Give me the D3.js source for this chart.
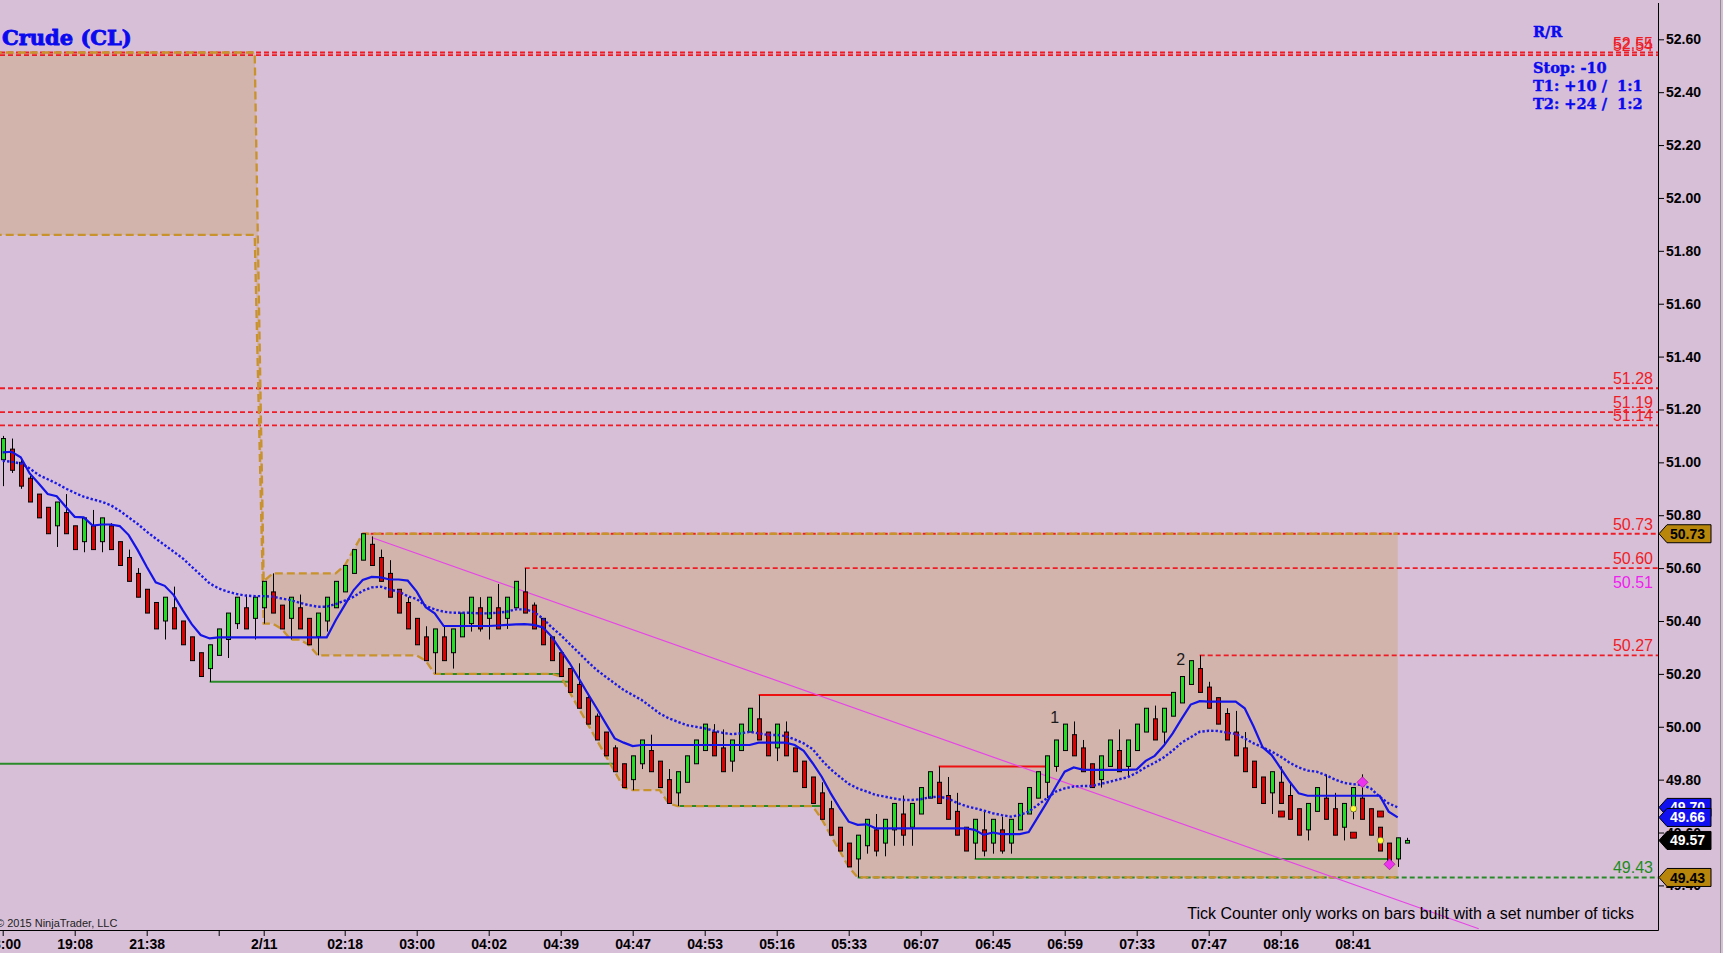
<!DOCTYPE html>
<html><head><meta charset="utf-8">
<script src="https://cdn.jsdelivr.net/npm/d3@7"></script>
<style>
html,body{margin:0;padding:0;background:#D8BFD8;}
svg{display:block;}
</style></head><body>
<svg id="chart" width="1723" height="953"></svg>
<script>
// ---------------- DATA ----------------
const opens = [
51.01,51.05,51.00,50.94,50.88,50.83,50.76,50.81,50.76,50.70,
50.76,50.70,50.76,50.70,50.64,50.58,50.52,50.47,50.40,50.45,
50.40,50.34,50.28,50.22,50.27,50.33,50.39,50.45,50.41,50.45,
50.51,50.46,50.41,50.45,50.41,50.34,50.40,50.45,50.51,50.58,
50.63,50.69,50.64,50.58,50.52,50.47,50.41,50.34,50.28,50.34,
50.28,50.34,50.39,50.45,50.41,50.45,50.41,50.45,50.51,50.46,
50.41,50.34,50.28,50.22,50.16,50.11,50.04,49.98,49.92,49.86,
49.80,49.86,49.91,49.87,49.80,49.75,49.79,49.86,49.91,49.98,
49.92,49.87,49.91,49.98,50.03,49.98,49.92,49.98,49.92,49.87,
49.81,49.75,49.69,49.62,49.56,49.50,49.55,49.61,49.56,49.61,
49.67,49.62,49.67,49.73,49.79,49.74,49.68,49.62,49.56,49.61,
49.56,49.61,49.56,49.61,49.67,49.73,49.79,49.85,49.91,49.97,
49.92,49.86,49.80,49.85,49.91,49.85,49.91,49.98,50.03,49.98,
50.04,50.09,50.16,50.22,50.15,50.11,50.05,49.98,49.92,49.87,
49.81,49.75,49.79,49.74,49.69,49.61,49.68,49.73,49.69,49.62,
49.68,49.73,49.69,49.62,49.56,49.50,49.56];
const highs = [
51.10,51.09,51.01,50.95,50.88,50.83,50.85,50.88,50.76,50.79,
50.82,50.79,50.77,50.70,50.67,50.60,50.52,50.47,50.49,50.53,
50.40,50.34,50.28,50.31,50.37,50.43,50.49,50.50,50.49,50.55,
50.58,50.46,50.49,50.50,50.41,50.43,50.49,50.55,50.61,50.67,
50.73,50.72,50.67,50.63,50.52,50.49,50.41,50.38,50.37,50.38,
50.37,50.43,50.49,50.49,50.49,50.54,50.49,50.55,50.60,50.47,
50.41,50.34,50.28,50.22,50.24,50.12,50.05,49.98,49.93,49.86,
49.89,49.95,49.97,49.87,49.84,49.83,49.89,49.95,50.01,50.01,
49.99,49.95,50.01,50.07,50.12,49.98,50.01,50.02,49.92,49.87,
49.81,49.79,49.72,49.62,49.56,49.59,49.65,49.67,49.65,49.71,
49.74,49.71,49.77,49.83,49.85,49.81,49.75,49.62,49.65,49.68,
49.65,49.66,49.65,49.71,49.77,49.83,49.89,49.95,50.01,50.02,
49.95,49.86,49.89,49.95,49.99,49.95,50.01,50.07,50.08,50.07,
50.13,50.19,50.25,50.27,50.17,50.11,50.07,50.06,49.98,49.87,
49.81,49.83,49.85,49.79,49.69,49.71,49.77,49.82,49.75,49.71,
49.77,49.82,49.69,49.62,49.56,49.58,49.58];
const lows = [
50.91,50.96,50.90,50.85,50.79,50.73,50.68,50.73,50.67,50.66,
50.67,50.66,50.67,50.61,50.55,50.49,50.43,50.37,50.33,50.37,
50.31,50.25,50.19,50.17,50.27,50.26,50.37,50.37,50.33,50.39,
50.43,50.37,50.33,50.37,50.31,50.27,50.36,50.45,50.51,50.58,
50.63,50.61,50.55,50.49,50.43,50.37,50.31,50.25,50.20,50.25,
50.22,50.34,50.36,50.36,50.33,50.37,50.37,50.45,50.43,50.37,
50.31,50.25,50.19,50.13,50.07,50.01,49.95,49.89,49.83,49.77,
49.76,49.84,49.83,49.77,49.71,49.70,49.79,49.86,49.91,49.89,
49.83,49.83,49.91,49.98,49.95,49.89,49.87,49.89,49.83,49.77,
49.71,49.65,49.59,49.53,49.47,49.43,49.52,49.51,49.51,49.55,
49.55,49.55,49.67,49.73,49.71,49.65,49.59,49.53,49.50,49.51,
49.52,49.52,49.52,49.61,49.67,49.73,49.73,49.83,49.91,49.89,
49.83,49.77,49.77,49.85,49.83,49.81,49.91,49.98,49.95,49.93,
50.04,50.09,50.16,50.13,50.07,50.01,49.95,49.89,49.83,49.77,
49.71,49.67,49.71,49.65,49.59,49.57,49.68,49.65,49.59,49.57,
49.65,49.65,49.59,49.53,49.47,49.47,49.56];
const closes = [
51.09,50.97,50.91,50.85,50.79,50.73,50.85,50.73,50.67,50.79,
50.67,50.79,50.67,50.61,50.55,50.49,50.43,50.37,50.49,50.37,
50.31,50.25,50.19,50.31,50.37,50.43,50.49,50.37,50.49,50.55,
50.43,50.37,50.49,50.37,50.31,50.43,50.49,50.55,50.61,50.67,
50.73,50.61,50.55,50.49,50.43,50.37,50.31,50.25,50.37,50.25,
50.37,50.43,50.49,50.37,50.49,50.37,50.49,50.55,50.43,50.37,
50.31,50.25,50.19,50.13,50.07,50.01,49.95,49.89,49.83,49.77,
49.89,49.95,49.83,49.77,49.71,49.83,49.89,49.95,50.01,49.89,
49.83,49.95,50.01,50.07,49.95,49.89,50.01,49.89,49.83,49.77,
49.71,49.65,49.59,49.53,49.47,49.59,49.65,49.53,49.65,49.71,
49.59,49.71,49.77,49.83,49.71,49.65,49.59,49.53,49.65,49.53,
49.65,49.53,49.65,49.71,49.77,49.83,49.89,49.95,50.01,49.89,
49.83,49.77,49.89,49.95,49.83,49.95,50.01,50.07,49.95,50.07,
50.13,50.19,50.25,50.13,50.07,50.01,49.95,49.89,49.83,49.77,
49.71,49.83,49.71,49.65,49.59,49.71,49.77,49.65,49.59,49.71,
49.77,49.65,49.59,49.53,49.49,49.58,49.57];

// blue solid (stepped average) and blue dotted average, one value per finished bar
const maSolid = [
51.038,51.040,51.019,50.958,50.920,50.880,50.872,50.832,50.794,50.792,
50.761,50.765,50.765,50.759,50.725,50.668,50.605,50.546,50.533,50.498,
50.441,50.388,50.347,50.334,50.338,50.338,50.338,50.338,50.338,50.338,
50.338,50.338,50.338,50.338,50.338,50.338,50.338,50.403,50.460,50.517,
50.555,50.567,50.565,50.557,50.557,50.553,50.511,50.452,50.429,50.381,
50.381,50.381,50.381,50.381,50.381,50.383,50.385,50.387,50.388,50.385,
50.376,50.341,50.290,50.240,50.183,50.126,50.070,50.013,49.956,49.940,
49.927,49.931,49.931,49.931,49.931,49.931,49.931,49.931,49.931,49.931,
49.931,49.931,49.931,49.931,49.940,49.940,49.940,49.940,49.931,49.909,
49.862,49.811,49.748,49.692,49.641,49.629,49.631,49.616,49.616,49.616,
49.616,49.616,49.616,49.616,49.616,49.616,49.616,49.616,49.610,49.591,
49.600,49.594,49.594,49.594,49.602,49.657,49.713,49.773,49.830,49.846,
49.838,49.837,49.837,49.837,49.837,49.837,49.839,49.871,49.890,49.928,
49.975,50.031,50.084,50.097,50.095,50.095,50.095,50.095,50.070,50.000,
49.922,49.893,49.843,49.792,49.748,49.739,49.739,49.739,49.739,49.739,
49.739,49.739,49.739,49.739,49.679,49.657];
const maDotted = [
51.006,51.002,50.996,50.977,50.952,50.936,50.920,50.901,50.885,50.870,
50.860,50.851,50.838,50.817,50.792,50.767,50.738,50.712,50.687,50.662,
50.637,50.605,50.574,50.542,50.523,50.511,50.502,50.496,50.494,50.494,
50.492,50.485,50.479,50.469,50.460,50.454,50.454,50.464,50.477,50.492,
50.514,50.527,50.530,50.519,50.511,50.494,50.483,50.457,50.444,50.435,
50.431,50.431,50.431,50.429,50.429,50.431,50.435,50.444,50.444,50.435,
50.410,50.376,50.347,50.313,50.280,50.246,50.215,50.189,50.164,50.139,
50.120,50.101,50.076,50.050,50.032,50.019,50.006,50.000,49.994,49.985,
49.977,49.972,49.975,49.981,49.975,49.969,49.969,49.965,49.952,49.937,
49.915,49.874,49.839,49.811,49.784,49.767,49.755,49.742,49.736,49.729,
49.723,49.723,49.726,49.733,49.736,49.729,49.713,49.700,49.692,49.683,
49.673,49.666,49.660,49.666,49.679,49.704,49.729,49.755,49.767,49.774,
49.776,49.776,49.784,49.792,49.801,49.809,49.826,49.847,49.864,49.884,
49.910,49.940,49.960,49.981,49.985,49.984,49.978,49.973,49.956,49.937,
49.922,49.906,49.887,49.864,49.846,49.834,49.830,49.817,49.801,49.788,
49.783,49.780,49.767,49.735,49.710,49.695];

// session range (2/11 session starts at bar 29); prior range box
const sessionStartBar = 29;
const priorRangeHigh = 52.55, priorRangeLow = 51.86;

// time axis
const timeTickBars   = [0,8,16,24,29,38,46,54,62,70,78,86,94,102,110,118,126,134,142,150];
const timeTickLabels = ['18:00','19:08','21:38','','2/11','02:18','03:00','04:02','04:39','04:47','04:53','05:16','05:33','06:07','06:45','06:59','07:33','07:47','08:16','08:41'];
const priceTicks = [49.40,49.60,49.80,50.00,50.20,50.40,50.60,50.80,51.00,51.20,51.40,51.60,51.80,52.00,52.20,52.40,52.60];

// horizontal levels
const redDashedPrices = [52.55,52.54,51.28,51.19,51.14,50.73,50.60,50.27];
const redDashedFrom   = [null,null,null,null,null,40,58,133];
const greenDashedPrices = [49.43];
const greenDashedFrom   = [95];
const resistPrices = [50.12,49.85];
const resistFrom   = [84,104];
const resistTo     = [130,116];
const supportPrices = [49.86,50.17,50.20,49.70,49.50];
const supportFrom   = [null,23,48,75,108];
const supportTo     = [68,63,62,91,154];
const magentaLabelPrice = 50.51;

// trend line (bar, price)
const trendBars = [41,164];
const trendPrices = [50.716,49.236];

// swing labels
const swingBars = [117,131];
const swingPrices = [50.014,50.234];
const swingTexts = ['1','2'];

// markers
const squareBars = [142,150,153], squarePrices = [49.67,49.59,49.67];
const dotBars = [150,153], dotPrices = [49.69,49.57];
const diamondBars = [151,154], diamondPrices = [49.79,49.48];

// R/R block
const rrLines = ['R/R','Stop: -10','T1: +10 /  1:1','T2: +24 /  1:2'];

// ---------------- DRAW ----------------
const W = 1723, H = 953;
const plotRight = 1658, plotBottom = 930;
const x = d3.scaleLinear().domain([0,156]).range([2.7,1406.7]);
const y = d3.scaleLinear().domain([49.40,52.60]).range([885.4,39.3]);
const fmt = d3.format('.2f');

const svg = d3.select('#chart');
svg.append('rect').attr('width',W).attr('height',H).attr('fill','#D8BFD8');
svg.append('defs').append('clipPath').attr('id','pc')
  .append('rect').attr('x',0).attr('y',0).attr('width',plotRight).attr('height',plotBottom);
const plot = svg.append('g').attr('clip-path','url(#pc)');

// session band (prior range, then running high/low)
const band = [];
let hi = -Infinity, lo = Infinity;
for (let i = -1; i < maSolid.length; i++) {
  if (i < sessionStartBar) band.push({i, u: priorRangeHigh, l: priorRangeLow});
  else { hi = Math.max(hi, highs[i]); lo = Math.min(lo, lows[i]); band.push({i, u: hi, l: lo}); }
}
plot.append('path').datum(band)
  .attr('d', d3.area().x(d=>x(d.i)).y0(d=>y(d.l)).y1(d=>y(d.u)))
  .attr('fill','#d2b4ac');

// level lines
const lev = plot.append('g');
redDashedPrices.forEach((p,k)=>{
  lev.append('line').attr('x1', redDashedFrom[k]===null?0:x(redDashedFrom[k])).attr('x2',plotRight)
    .attr('y1',y(p)).attr('y2',y(p)).attr('stroke','#ee1c24').attr('stroke-width',1.9).attr('stroke-dasharray','5,3');
});
greenDashedPrices.forEach((p,k)=>{
  lev.append('line').attr('x1', x(greenDashedFrom[k])).attr('x2',plotRight)
    .attr('y1',y(p)).attr('y2',y(p)).attr('stroke','#2a8a2a').attr('stroke-width',1.9).attr('stroke-dasharray','5,3');
});
resistPrices.forEach((p,k)=>{
  lev.append('line').attr('x1', x(resistFrom[k])).attr('x2',x(resistTo[k]))
    .attr('y1',y(p)).attr('y2',y(p)).attr('stroke','#ee1111').attr('stroke-width',2);
});
supportPrices.forEach((p,k)=>{
  lev.append('line').attr('x1', supportFrom[k]===null?0:x(supportFrom[k])).attr('x2',x(supportTo[k]))
    .attr('y1',y(p)).attr('y2',y(p)).attr('stroke','#2a8a2a').attr('stroke-width',2);
});

// band edges
const bandLine = acc => d3.line().x(d=>x(d.i)).y(d=>y(acc(d)));
plot.append('path').datum(band).attr('d', bandLine(d=>d.u)).attr('fill','none')
  .attr('stroke','#c8922c').attr('stroke-width',2.3).attr('stroke-dasharray','8,4');
plot.append('path').datum(band).attr('d', bandLine(d=>d.l)).attr('fill','none')
  .attr('stroke','#c8922c').attr('stroke-width',2.3).attr('stroke-dasharray','8,4');

// trend line
plot.append('line').attr('x1',x(trendBars[0])).attr('y1',y(trendPrices[0]))
  .attr('x2',x(trendBars[1])).attr('y2',y(trendPrices[1]))
  .attr('stroke','#e646e6').attr('stroke-width',1.2);

// candles
const bars = opens.map((o,i)=>({i,o,h:highs[i],l:lows[i],c:closes[i]}));
const cx = i => Math.round(x(i)) + 0.5;
const cg = plot.append('g');
cg.selectAll('line').data(bars).join('line')
  .attr('x1',d=>cx(d.i)).attr('x2',d=>cx(d.i))
  .attr('y1',d=>y(d.h)).attr('y2',d=>y(d.l)).attr('stroke','#000').attr('stroke-width',1);
cg.selectAll('rect').data(bars).join('rect')
  .attr('x',d=>cx(d.i)-2).attr('width',4)
  .attr('y',d=>y(Math.max(d.o,d.c)))
  .attr('height',d=>Math.max(1, Math.abs(y(d.o)-y(d.c))))
  .attr('fill',d=>d.c>=d.o?'#22dd22':'#dd0000')
  .attr('stroke','#000').attr('stroke-width',1);

// averages
const maLine = d3.line().x((d,i)=>x(i)).y(d=>y(d));
plot.append('path').datum(maDotted).attr('d',maLine).attr('fill','none')
  .attr('stroke','#1a1ae6').attr('stroke-width',2.4).attr('stroke-dasharray','2.4,2');
plot.append('path').datum(maSolid).attr('d',maLine).attr('fill','none')
  .attr('stroke','#1414e6').attr('stroke-width',2.2);

// markers
squareBars.forEach((b,k)=>{
  plot.append('rect').attr('x',cx(b)-3).attr('y',y(squarePrices[k])-3).attr('width',6).attr('height',6)
    .attr('fill','#dd0000').attr('stroke','#000').attr('stroke-width',0.8);
});
dotBars.forEach((b,k)=>{
  plot.append('circle').attr('cx',cx(b)).attr('cy',y(dotPrices[k])).attr('r',3.2)
    .attr('fill','#ffff33').attr('stroke','#555').attr('stroke-width',0.6);
});
diamondBars.forEach((b,k)=>{
  const X = cx(b), Y = y(diamondPrices[k]), s = 5.5;
  plot.append('path').attr('d',`M${X},${Y-s}L${X+s},${Y}L${X},${Y+s}L${X-s},${Y}Z`)
    .attr('fill','#ee33ee').attr('stroke','#a020a0').attr('stroke-width',0.8);
});

// swing labels
swingBars.forEach((b,k)=>{
  plot.append('text').attr('x',x(b)-1).attr('y',y(swingPrices[k])).attr('text-anchor','middle')
    .attr('font-family','Liberation Sans, Arial, sans-serif').attr('font-size',16).attr('fill','#1a1a1a')
    .text(swingTexts[k]);
});

// level labels (right side)
const lbl = svg.append('g').attr('font-family','Liberation Sans, Arial, sans-serif').attr('font-size',16).attr('text-anchor','end');
redDashedPrices.forEach(p=>{
  lbl.append('text').attr('x',1653).attr('y',y(p)-4).attr('fill','#ee1c24').text(fmt(p));
});
lbl.append('text').attr('x',1653).attr('y',y(magentaLabelPrice)-4).attr('fill','#ee22ee').text(fmt(magentaLabelPrice));
greenDashedPrices.forEach(p=>{
  lbl.append('text').attr('x',1653).attr('y',y(p)-4).attr('fill','#1e8c1e').text(fmt(p));
});

// axes
const gy = svg.append('g').attr('transform',`translate(${plotRight},0)`)
  .call(d3.axisRight(y).tickValues(priceTicks).tickFormat(fmt).tickSize(6).tickPadding(2));
gy.select('.domain').remove();
gy.selectAll('line').attr('stroke','#000');
gy.selectAll('text').attr('font-family','Liberation Sans, Arial, sans-serif').attr('font-size',14)
  .attr('font-weight','bold').attr('fill','#000');

const gx = svg.append('g').attr('transform',`translate(0,${plotBottom})`)
  .call(d3.axisBottom(x).tickValues(timeTickBars).tickFormat((d,k)=>timeTickLabels[k]).tickSize(6).tickPadding(3));
gx.select('.domain').remove();
gx.selectAll('line').attr('stroke','#000');
gx.selectAll('text').attr('font-family','Liberation Sans, Arial, sans-serif').attr('font-size',14)
  .attr('font-weight','bold').attr('fill','#000');

svg.append('line').attr('x1',0).attr('x2',plotRight+0.5).attr('y1',plotBottom+0.5).attr('y2',plotBottom+0.5).attr('stroke','#000');
svg.append('line').attr('x1',plotRight+0.5).attr('x2',plotRight+0.5).attr('y1',3).attr('y2',plotBottom+0.5).attr('stroke','#000');
svg.append('line').attr('x1',1720.5).attr('x2',1720.5).attr('y1',0).attr('y2',H).attr('stroke','#8f8f8f');

// right-side value flags
const sessHigh = d3.max(highs.slice(sessionStartBar, maSolid.length));
const sessLow = d3.min(lows.slice(sessionStartBar, maSolid.length));
const flags = [
  {v: sessHigh, bg:'#b8860b', fg:'#000'},
  {v: maDotted[maDotted.length-1], bg:'#1010f0', fg:'#fff'},
  {v: maSolid[maSolid.length-1], bg:'#1010f0', fg:'#fff'},
  {v: closes[closes.length-1], bg:'#000', fg:'#fff'},
  {v: sessLow, bg:'#b8860b', fg:'#000'}
];
flags.forEach(f=>{
  const Y = y(f.v);
  svg.append('path').attr('d',`M${plotRight+1},${Y}L${plotRight+9},${Y-9}L1711,${Y-9}L1711,${Y+9}L${plotRight+9},${Y+9}Z`)
    .attr('fill',f.bg).attr('stroke','#000').attr('stroke-width',1);
  svg.append('text').attr('x',1670).attr('y',Y).attr('dy','0.36em')
    .attr('font-family','Liberation Sans, Arial, sans-serif').attr('font-size',14).attr('font-weight','bold')
    .attr('fill',f.fg).text(fmt(f.v));
});

// title
svg.append('text').attr('x',2).attr('y',45).attr('font-family','DejaVu Serif, serif').attr('font-weight','bold')
  .attr('font-size',21).attr('fill','#0a0aee').attr('stroke','#0a0aee').attr('stroke-width',0.9)
  .text('Crude (CL)');

// R/R block
const rrY = [37,73,91,109];
rrLines.forEach((t,k)=>{
  svg.append('text').attr('x',1533).attr('y',rrY[k]).attr('font-family','DejaVu Serif, serif')
    .attr('font-weight','bold').attr('font-size',14.5).attr('fill','#0a0aee')
    .attr('stroke','#0a0aee').attr('stroke-width',0.4)
    .style('white-space','pre').text(t);
});

// footer texts
svg.append('text').attr('x',-4).attr('y',927).attr('font-family','Liberation Sans Narrow, Arial Narrow, sans-serif')
  .attr('font-size',11).attr('fill','#222').text('© 2015 NinjaTrader, LLC');
svg.append('text').attr('x',1634).attr('y',919).attr('text-anchor','end')
  .attr('font-family','Liberation Sans, Arial, sans-serif').attr('font-size',16).attr('fill','#000')
  .text('Tick Counter only works on bars built with a set number of ticks');
</script></body></html>
